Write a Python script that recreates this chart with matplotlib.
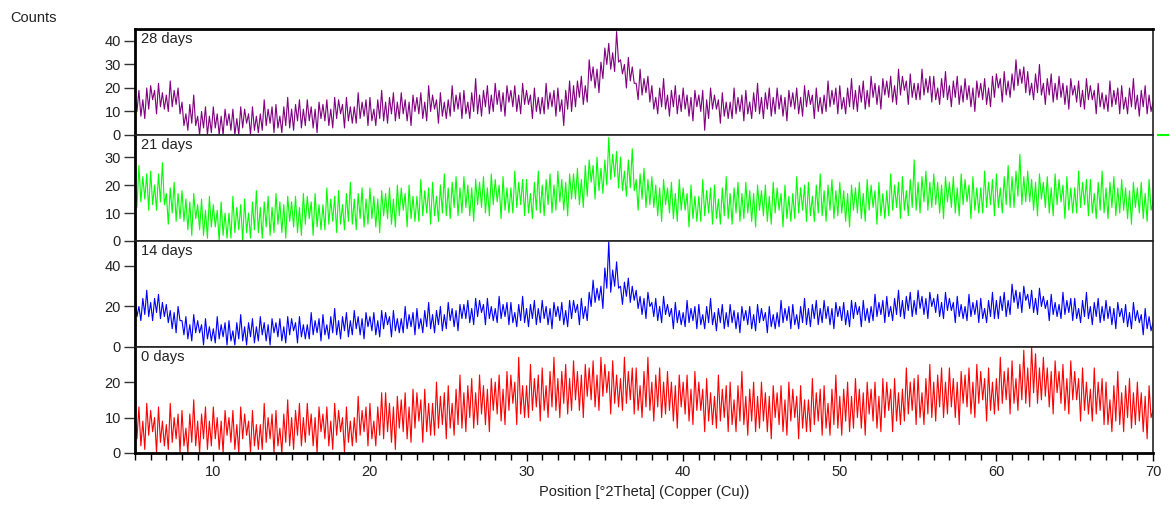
import numpy as np
import matplotlib.pyplot as plt
from matplotlib.lines import Line2D

plt.rcParams['font.family'] = ['Liberation Sans', 'DejaVu Sans']

# 2theta positions, 0.125 deg step (5 .. 70)
two_theta = np.arange(5, 70.0001, 0.125)

# counts, one row = one degree (8 points)
counts_28 = [
    17, 10, 19, 8, 15, 7, 20, 11,
    21, 15, 19, 9, 22, 12, 18, 11,
    17, 10, 23, 12, 19, 13, 20, 9,
    14, 4, 9, 2, 13, 5, 17, 4,
    8, 0, 10, 3, 12, 0, 8, 1,
    12, 3, 9, 0, 8, 0, 11, 4,
    9, 2, 11, 0, 7, 0, 12, 3,
    11, 5, 9, 0, 12, 2, 8, 1,
    9, 2, 15, 4, 11, 5, 12, 1,
    13, 3, 8, 1, 12, 4, 16, 3,
    11, 2, 13, 6, 15, 3, 11, 4,
    15, 6, 12, 3, 11, 1, 14, 7,
    13, 6, 15, 4, 11, 3, 16, 7,
    15, 9, 13, 3, 16, 6, 12, 5,
    12, 5, 18, 7, 14, 8, 15, 4,
    16, 6, 11, 4, 15, 7, 19, 6,
    14, 5, 16, 9, 18, 6, 14, 7,
    18, 9, 15, 6, 14, 4, 17, 10,
    16, 9, 18, 7, 14, 6, 21, 10,
    17, 11, 15, 5, 18, 8, 14, 7,
    15, 8, 21, 10, 17, 11, 18, 7,
    19, 9, 14, 7, 18, 10, 24, 9,
    17, 8, 19, 12, 21, 9, 17, 10,
    22, 13, 19, 10, 18, 8, 21, 14,
    19, 12, 21, 10, 17, 9, 22, 13,
    19, 13, 17, 7, 20, 10, 16, 9,
    16, 9, 22, 11, 18, 12, 19, 8,
    20, 10, 15, 4, 19, 11, 23, 10,
    21, 12, 23, 16, 25, 13, 21, 14,
    32, 23, 29, 20, 28, 18, 31, 24,
    37, 30, 39, 28, 35, 27, 44, 31,
    32, 26, 30, 20, 33, 23, 29, 22,
    22, 15, 28, 17, 24, 18, 25, 14,
    21, 11, 16, 9, 20, 12, 24, 11,
    17, 8, 19, 12, 21, 9, 17, 10,
    20, 11, 17, 8, 16, 6, 19, 12,
    17, 10, 19, 2, 15, 7, 20, 11,
    17, 11, 15, 5, 18, 8, 14, 7,
    14, 7, 20, 9, 16, 10, 17, 6,
    19, 9, 14, 7, 18, 10, 22, 9,
    16, 7, 18, 11, 20, 8, 16, 9,
    20, 11, 17, 8, 16, 6, 19, 12,
    18, 11, 20, 9, 16, 8, 21, 12,
    19, 13, 17, 7, 20, 10, 16, 9,
    17, 10, 23, 12, 19, 13, 20, 9,
    21, 11, 16, 9, 20, 12, 24, 11,
    19, 10, 21, 14, 23, 11, 19, 12,
    25, 16, 22, 13, 21, 11, 24, 17,
    23, 16, 25, 14, 21, 13, 28, 17,
    25, 19, 23, 13, 26, 16, 22, 15,
    22, 15, 28, 17, 24, 18, 25, 14,
    25, 15, 20, 13, 24, 16, 27, 15,
    21, 12, 23, 16, 25, 13, 21, 14,
    24, 15, 21, 12, 20, 10, 23, 16,
    22, 15, 24, 13, 20, 12, 25, 16,
    26, 20, 24, 14, 27, 17, 23, 16,
    26, 19, 32, 21, 28, 22, 29, 18,
    27, 17, 22, 15, 26, 18, 30, 17,
    22, 13, 24, 17, 26, 14, 22, 15,
    25, 16, 22, 13, 21, 11, 24, 17,
    21, 14, 23, 12, 19, 11, 24, 15,
    21, 15, 19, 9, 22, 12, 18, 11,
    17, 10, 23, 12, 19, 13, 20, 9,
    21, 11, 16, 9, 20, 12, 24, 11,
    17, 8, 19, 12, 21, 9, 17, 10,
    14]

counts_21 = [
    21, 12, 27, 14, 23, 15, 24, 11,
    25, 13, 20, 11, 24, 14, 28, 13,
    17, 6, 19, 10, 21, 7, 17, 8,
    18, 7, 15, 4, 14, 2, 17, 8,
    13, 4, 15, 2, 11, 1, 16, 5,
    13, 5, 11, 0, 14, 2, 10, 1,
    10, 1, 16, 3, 12, 4, 13, 0,
    15, 3, 10, 1, 14, 4, 18, 3,
    12, 1, 14, 5, 16, 2, 12, 3,
    17, 6, 14, 3, 13, 1, 16, 7,
    14, 5, 16, 3, 12, 2, 17, 6,
    16, 8, 14, 2, 17, 5, 13, 4,
    13, 4, 19, 6, 15, 7, 16, 3,
    18, 6, 13, 4, 17, 7, 21, 6,
    15, 4, 17, 8, 19, 5, 15, 6,
    19, 8, 16, 5, 15, 3, 18, 9,
    17, 8, 19, 6, 15, 5, 20, 9,
    19, 11, 17, 5, 20, 8, 16, 7,
    16, 7, 22, 9, 18, 10, 19, 6,
    21, 9, 16, 7, 20, 10, 24, 9,
    19, 8, 21, 12, 23, 9, 19, 10,
    23, 12, 20, 9, 19, 7, 22, 13,
    21, 12, 23, 10, 19, 9, 24, 13,
    22, 14, 20, 8, 23, 11, 19, 10,
    19, 10, 25, 12, 21, 13, 22, 9,
    22, 10, 17, 8, 21, 11, 25, 10,
    20, 9, 22, 13, 24, 10, 20, 11,
    25, 14, 22, 11, 21, 9, 24, 15,
    24, 15, 26, 13, 22, 12, 27, 16,
    29, 21, 27, 15, 30, 18, 26, 17,
    29, 20, 37, 22, 31, 23, 32, 19,
    30, 18, 25, 16, 29, 19, 33, 18,
    22, 11, 24, 15, 26, 12, 22, 13,
    23, 12, 20, 9, 19, 7, 22, 13,
    19, 10, 21, 8, 17, 7, 22, 11,
    19, 11, 17, 5, 20, 8, 16, 7,
    16, 7, 22, 9, 18, 10, 19, 6,
    20, 8, 15, 6, 19, 9, 23, 8,
    17, 6, 19, 10, 21, 7, 17, 8,
    21, 10, 18, 7, 17, 5, 20, 11,
    18, 9, 20, 7, 16, 6, 21, 10,
    19, 11, 17, 5, 20, 8, 16, 7,
    17, 8, 23, 10, 19, 11, 20, 7,
    21, 9, 16, 7, 20, 10, 24, 9,
    18, 7, 20, 11, 22, 8, 18, 9,
    21, 10, 18, 7, 17, 5, 20, 11,
    19, 10, 21, 8, 17, 7, 22, 11,
    20, 12, 18, 6, 21, 9, 17, 8,
    18, 9, 24, 11, 20, 12, 21, 8,
    23, 11, 18, 9, 22, 12, 29, 11,
    21, 10, 23, 14, 25, 11, 21, 12,
    24, 13, 21, 10, 20, 8, 23, 14,
    21, 12, 23, 10, 19, 9, 24, 13,
    22, 14, 20, 8, 23, 11, 19, 10,
    19, 10, 25, 12, 21, 13, 22, 9,
    24, 12, 19, 10, 23, 13, 27, 12,
    23, 12, 25, 16, 31, 13, 23, 14,
    25, 14, 22, 11, 21, 9, 24, 15,
    21, 12, 23, 10, 19, 9, 24, 13,
    22, 14, 20, 8, 23, 11, 19, 10,
    19, 10, 25, 12, 21, 13, 22, 9,
    22, 10, 17, 8, 21, 11, 25, 10,
    19, 8, 21, 12, 23, 9, 19, 10,
    22, 11, 19, 8, 18, 6, 21, 12,
    19, 10, 21, 8, 17, 7, 22, 11,
    14]

counts_14 = [
    25, 15, 20, 13, 24, 16, 28, 15,
    22, 13, 24, 17, 26, 14, 22, 15,
    21, 12, 18, 9, 17, 7, 20, 13,
    13, 6, 15, 4, 11, 3, 16, 7,
    13, 7, 11, 1, 14, 4, 10, 3,
    9, 2, 15, 4, 11, 5, 12, 1,
    13, 3, 8, 1, 12, 4, 16, 3,
    10, 1, 12, 5, 14, 2, 10, 3,
    15, 6, 12, 3, 11, 1, 14, 7,
    12, 5, 14, 3, 10, 2, 15, 6,
    14, 8, 12, 2, 15, 5, 11, 4,
    11, 4, 17, 6, 13, 7, 14, 3,
    16, 6, 11, 4, 15, 7, 19, 6,
    13, 4, 15, 8, 17, 5, 13, 6,
    18, 9, 15, 6, 14, 4, 17, 10,
    15, 8, 17, 6, 13, 5, 18, 9,
    17, 11, 15, 5, 18, 8, 14, 7,
    14, 7, 20, 9, 16, 10, 17, 6,
    19, 9, 14, 7, 18, 10, 22, 9,
    16, 7, 18, 11, 20, 8, 16, 9,
    22, 13, 19, 10, 18, 8, 21, 14,
    21, 14, 23, 12, 19, 11, 24, 15,
    23, 17, 21, 11, 24, 14, 20, 13,
    19, 12, 25, 14, 21, 15, 22, 11,
    22, 12, 17, 10, 21, 13, 25, 12,
    19, 10, 21, 14, 23, 11, 19, 12,
    23, 14, 20, 11, 19, 9, 22, 15,
    20, 13, 22, 11, 18, 10, 23, 14,
    23, 17, 21, 11, 24, 14, 20, 13,
    27, 20, 33, 22, 29, 23, 30, 19,
    39, 29, 52, 27, 38, 30, 42, 29,
    30, 21, 32, 25, 34, 22, 30, 23,
    28, 19, 25, 16, 24, 14, 27, 20,
    22, 15, 24, 13, 20, 12, 25, 16,
    21, 15, 19, 9, 22, 12, 18, 11,
    17, 10, 23, 12, 19, 13, 20, 9,
    21, 11, 16, 9, 20, 12, 24, 11,
    17, 8, 19, 12, 21, 9, 17, 10,
    21, 12, 18, 9, 17, 7, 20, 13,
    18, 11, 20, 9, 16, 8, 21, 12,
    19, 13, 17, 7, 20, 10, 16, 9,
    17, 10, 23, 12, 19, 13, 20, 9,
    21, 11, 16, 9, 20, 12, 24, 11,
    19, 10, 21, 14, 23, 11, 19, 12,
    23, 14, 20, 11, 19, 9, 22, 15,
    20, 13, 22, 11, 18, 10, 23, 14,
    22, 16, 20, 10, 23, 13, 19, 12,
    20, 13, 26, 15, 22, 16, 23, 12,
    25, 15, 20, 13, 24, 16, 28, 15,
    23, 14, 25, 18, 27, 15, 23, 16,
    28, 19, 25, 16, 24, 14, 27, 20,
    24, 17, 26, 15, 22, 14, 27, 18,
    24, 18, 22, 12, 25, 15, 21, 14,
    20, 13, 26, 15, 22, 16, 23, 12,
    24, 14, 19, 12, 23, 15, 27, 14,
    23, 14, 25, 18, 27, 15, 23, 16,
    31, 22, 28, 19, 27, 17, 30, 23,
    26, 19, 28, 17, 24, 16, 29, 20,
    25, 19, 23, 13, 26, 16, 22, 15,
    21, 14, 27, 16, 23, 17, 24, 13,
    24, 14, 19, 12, 23, 15, 27, 14,
    20, 11, 22, 15, 24, 12, 20, 13,
    23, 14, 20, 11, 19, 9, 22, 15,
    19, 12, 21, 10, 17, 9, 22, 13,
    18, 12, 16, 6, 19, 9, 15, 8,
    12]

counts_0 = [
    11, 4, 13, 2, 9, 1, 14, 5,
    12, 6, 10, 0, 13, 3, 9, 2,
    8, 1, 14, 3, 10, 4, 11, 0,
    12, 2, 7, 0, 11, 3, 15, 2,
    9, 0, 11, 4, 13, 1, 9, 2,
    13, 4, 10, 1, 9, 0, 12, 5,
    10, 3, 12, 1, 8, 0, 13, 4,
    11, 5, 9, 0, 12, 2, 8, 1,
    8, 1, 14, 3, 10, 4, 11, 0,
    12, 2, 7, 0, 11, 3, 15, 2,
    10, 1, 12, 5, 14, 2, 10, 3,
    14, 5, 11, 2, 10, 0, 13, 6,
    11, 4, 13, 2, 9, 1, 14, 5,
    12, 6, 10, 0, 13, 3, 9, 2,
    10, 3, 16, 5, 12, 6, 13, 2,
    14, 4, 9, 2, 13, 5, 17, 4,
    17, 6, 14, 3, 13, 1, 16, 7,
    15, 6, 17, 4, 13, 3, 18, 7,
    17, 9, 15, 3, 18, 6, 14, 5,
    14, 5, 20, 7, 16, 8, 17, 4,
    19, 7, 14, 5, 18, 8, 22, 7,
    17, 6, 19, 10, 21, 7, 17, 8,
    22, 11, 19, 8, 18, 6, 21, 12,
    20, 11, 22, 9, 18, 8, 23, 12,
    22, 14, 20, 8, 27, 11, 19, 10,
    19, 10, 25, 12, 21, 13, 22, 9,
    24, 12, 19, 10, 23, 13, 27, 12,
    21, 10, 23, 14, 25, 11, 21, 12,
    26, 15, 23, 12, 22, 10, 25, 16,
    24, 15, 26, 13, 22, 12, 27, 16,
    25, 17, 23, 11, 26, 14, 22, 13,
    21, 12, 27, 14, 23, 15, 24, 11,
    24, 12, 19, 10, 23, 13, 27, 12,
    20, 9, 22, 13, 24, 10, 20, 11,
    23, 12, 20, 9, 19, 7, 22, 13,
    20, 11, 22, 9, 18, 8, 23, 12,
    20, 12, 18, 6, 21, 9, 17, 8,
    16, 7, 22, 9, 18, 10, 19, 6,
    20, 8, 15, 6, 19, 9, 23, 8,
    16, 5, 18, 9, 20, 6, 16, 7,
    20, 9, 17, 6, 16, 4, 19, 10,
    17, 8, 19, 6, 15, 5, 20, 9,
    18, 10, 16, 4, 19, 7, 15, 6,
    15, 6, 21, 8, 17, 9, 18, 5,
    19, 7, 14, 5, 18, 8, 22, 7,
    16, 5, 18, 9, 20, 6, 16, 7,
    21, 10, 18, 7, 17, 5, 20, 11,
    18, 9, 20, 7, 16, 6, 21, 10,
    20, 12, 18, 6, 21, 9, 17, 8,
    18, 9, 24, 11, 20, 12, 21, 8,
    22, 10, 17, 8, 21, 11, 25, 10,
    20, 9, 22, 13, 24, 10, 20, 11,
    24, 13, 21, 10, 20, 8, 23, 14,
    22, 13, 24, 11, 20, 10, 25, 14,
    23, 15, 21, 9, 24, 12, 20, 11,
    21, 12, 27, 14, 23, 15, 24, 11,
    26, 14, 21, 12, 25, 15, 29, 14,
    24, 13, 30, 17, 28, 14, 24, 15,
    27, 16, 24, 13, 23, 11, 26, 17,
    23, 14, 25, 12, 21, 11, 26, 15,
    23, 15, 21, 9, 24, 12, 20, 11,
    18, 9, 24, 11, 20, 12, 21, 8,
    20, 8, 15, 6, 19, 9, 23, 8,
    17, 6, 19, 10, 21, 7, 17, 8,
    20, 9, 17, 6, 16, 4, 19, 10,
    12]

labels = ['28 days', '21 days', '14 days', '0 days']
series = [counts_28, counts_21, counts_14, counts_0]
colors = ['#800080', '#00ff00', '#0000ff', '#ff0000']
ylims = [45.1, 37.9, 52.3, 29.9]
yticks = [[0, 10, 20, 30, 40], [0, 10, 20, 30], [0, 20, 40], [0, 10, 20]]

W, H = 1169, 513
fig = plt.figure(figsize=(W / 100, H / 100), dpi=100)
left, right = 135 / W, 1153 / W
edges = [29, 135, 241, 347, 453]

for i in range(4):
    top_px, bot_px = edges[i], edges[i + 1]
    ax = fig.add_axes([left, 1 - bot_px / H, right - left, (bot_px - top_px) / H])
    ax.plot(two_theta, series[i], color=colors[i], lw=0.8)
    ax.set_xlim(5, 70)
    ax.set_ylim(0, ylims[i])
    ax.set_yticks(yticks[i])
    ax.tick_params(axis='y', direction='out', length=8, width=1, color='#333333',
                   labelsize=10.5, labelcolor='#222222', pad=2)
    ax.text(0.006, 0.97, labels[i], transform=ax.transAxes, ha='left', va='top',
            fontsize=10.5, color='#222222')
    for s in ['top', 'right']:
        ax.spines[s].set_color('#222222')
        ax.spines[s].set_linewidth(1.2)
    ax.spines['left'].set_linewidth(2)
    ax.spines['left'].set_color('black')
    if i == 0:
        ax.spines['top'].set_linewidth(2)
        ax.spines['top'].set_color('black')
    if i < 3:
        ax.spines['bottom'].set_color('#444444')
        ax.spines['bottom'].set_linewidth(1.2)
        ax.tick_params(axis='x', which='both', bottom=False, labelbottom=False)
    else:
        ax.spines['bottom'].set_linewidth(2)
        ax.spines['bottom'].set_color('black')
        ax.set_xticks(range(10, 71, 10))
        ax.set_xticks(range(5, 71), minor=True)
        ax.tick_params(axis='x', which='major', direction='out', length=6, width=1,
                       labelsize=10.5, labelcolor='#222222', pad=3)
        ax.tick_params(axis='x', which='minor', direction='out', length=5, width=1)
        ax.set_xlabel('Position [°2Theta] (Copper (Cu))', fontsize=10.5,
                      color='#222222', labelpad=4)

fig.text(10 / W, 1 - 18 / H, 'Counts', ha='left', va='center', fontsize=10.5,
         color='#222222')
fig.add_artist(Line2D([1158 / W, 1169 / W], [1 - 135 / H, 1 - 135 / H],
                      color='#00ff00', lw=1.5))

fig.savefig('out.png', dpi=100)
